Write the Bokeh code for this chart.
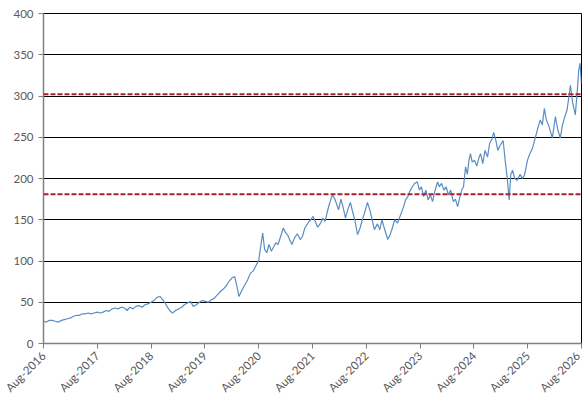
import numpy as np
import pandas as pd
from bokeh.plotting import figure
from bokeh.models import FixedTicker, DatetimeTickFormatter, Range1d, Span
from bokeh.embed import file_html
from bokeh.resources import INLINE
import math

dates = [
 "2016-08-01","2016-08-20","2016-09-10","2016-10-01","2016-10-20","2016-11-10","2016-12-01","2016-12-20",
 "2017-01-10","2017-02-01","2017-02-20","2017-03-10","2017-04-01","2017-04-20","2017-05-10","2017-06-01",
 "2017-06-20","2017-07-10","2017-08-01","2017-08-20","2017-09-10","2017-10-01","2017-10-20","2017-11-10",
 "2017-12-01","2017-12-20","2018-01-10","2018-02-01","2018-02-20","2018-03-10","2018-04-01","2018-04-20",
 "2018-05-10","2018-06-01","2018-06-20","2018-07-10","2018-08-01","2018-08-20","2018-09-10","2018-10-01",
 "2018-10-15","2018-11-01","2018-11-20","2018-12-10","2018-12-25","2019-01-15","2019-02-05","2019-02-25",
 "2019-03-15","2019-04-05","2019-04-25","2019-05-15","2019-06-05","2019-06-25","2019-07-15","2019-08-05",
 "2019-08-25","2019-09-15","2019-10-05","2019-10-25","2019-11-15","2019-12-05","2019-12-25","2020-01-15",
 "2020-02-05","2020-02-20","2020-03-05","2020-03-20","2020-04-05","2020-04-25","2020-05-15","2020-06-05",
 "2020-06-25","2020-07-15","2020-08-01","2020-08-15","2020-08-28","2020-09-10","2020-09-25","2020-10-10",
 "2020-10-25","2020-11-10","2020-11-25","2020-12-10","2020-12-28","2021-01-15","2021-01-28","2021-02-15",
 "2021-03-01","2021-03-15","2021-04-01","2021-04-20","2021-05-10","2021-05-25","2021-06-10","2021-07-05",
 "2021-07-20","2021-08-05","2021-08-20","2021-09-05","2021-09-25","2021-10-10","2021-10-25","2021-11-10",
 "2021-11-25","2021-12-14","2021-12-28","2022-01-10","2022-01-25","2022-02-10","2022-02-25","2022-03-13",
 "2022-03-28","2022-04-15","2022-04-30","2022-05-15","2022-06-03","2022-06-20","2022-07-05","2022-07-20",
 "2022-08-09","2022-08-25","2022-09-10","2022-09-25","2022-10-16","2022-11-01","2022-11-15","2022-12-01",
 "2022-12-25","2023-01-10","2023-01-25","2023-02-10","2023-03-01","2023-03-20","2023-04-10","2023-04-25",
 "2023-05-10","2023-05-25","2023-06-10","2023-06-25","2023-07-13","2023-07-28","2023-08-10","2023-08-25",
 "2023-09-10","2023-09-25","2023-10-10","2023-10-25","2023-11-10","2023-11-28","2023-12-10","2023-12-25",
 "2024-01-10","2024-01-25","2024-02-10","2024-02-25","2024-03-14","2024-03-28","2024-04-12","2024-04-28",
 "2024-05-10","2024-05-22","2024-06-05","2024-06-17","2024-06-28","2024-07-08","2024-07-20","2024-08-05",
 "2024-08-20","2024-09-05","2024-09-15","2024-09-30","2024-10-15","2024-11-01","2024-11-15","2024-12-01",
 "2024-12-13","2024-12-28","2025-01-10","2025-01-25","2025-02-15","2025-03-01","2025-03-15","2025-03-28",
 "2025-04-08","2025-04-20","2025-05-05","2025-05-22","2025-06-10","2025-06-25","2025-07-10","2025-07-30",
 "2025-08-15","2025-09-01","2025-09-22","2025-10-10","2025-10-25","2025-11-08","2025-11-22","2025-12-05",
 "2025-12-20","2026-01-15","2026-02-05","2026-02-20","2026-03-10","2026-03-25","2026-04-10","2026-04-25",
 "2026-05-18","2026-06-01","2026-06-20","2026-07-05","2026-07-13","2026-07-22","2026-08-01",
]
values = [
 27,26,28,28,27,26,28,29,
 30,31,33,34,34,36,36,37,
 36,37,38,37,38,40,39,42,
 43,42,44,43,40,44,42,45,
 46,44,47,48,50,52,56,57,
 54,50,44,39,37,40,42,44,
 47,49,51,45,47,50,52,51,
 50,53,55,59,63,66,70,76,
 80,81,70,57,63,70,76,85,
 88,95,101,118,134,114,110,120,
 112,117,122,120,130,140,135,131,
 125,120,128,133,126,130,140,147,
 150,154,148,141,146,152,148,160,
 170,180,176,170,162,175,165,152,
 162,171,160,150,132,140,150,158,
 171,162,150,138,145,138,150,140,
 126,132,140,150,146,155,165,174,
 178,185,190,194,196,186,190,178,
 186,174,180,172,185,196,190,194,
 186,190,180,186,172,175,166,178,
 186,190,214,205,222,230,220,222,
 215,226,230,218,234,226,242,248,
 256,246,234,240,246,222,200,174,
 205,210,200,198,205,200,204,222,
 230,236,250,262,271,265,285,271,
 265,249,275,260,249,265,275,283,
 313,293,277,310,331,340,315,
]
levels = [302, 181]
tick_dates = ["2016-08-01","2017-08-01","2018-08-01","2019-08-01","2020-08-01","2021-08-01",
              "2022-08-01","2023-08-01","2024-08-01","2025-08-01","2026-08-01"]

x = pd.to_datetime(dates)
ticks_ms = [pd.Timestamp(d).value / 1e6 for d in tick_dates]

p = figure(width=582, height=401, x_axis_type="datetime", output_backend="svg",
           toolbar_location=None, min_border_left=43, min_border_right=1,
           min_border_top=13, min_border_bottom=57)
p.x_range = Range1d(ticks_ms[0], ticks_ms[-1])
p.y_range = Range1d(0, 400)

p.line(x, values, line_color="#5b8ec0", line_width=1.2)
for lv in levels:
    p.add_layout(Span(location=lv, dimension="width", line_color="#a8202c",
                      line_width=2, line_dash="5 2"))

p.xaxis.ticker = FixedTicker(ticks=ticks_ms)
p.xaxis.formatter = DatetimeTickFormatter(months="%b-%Y", days="%b-%Y", years="%b-%Y")
p.xaxis.major_label_orientation = math.pi / 4
p.yaxis.ticker = FixedTicker(ticks=list(range(0, 401, 50)))

for ax in (p.xaxis, p.yaxis):
    ax.axis_line_color = "#808080"
    ax.axis_line_width = 1.5
    ax.major_tick_line_color = "#808080"
    ax.major_tick_in = 0
    ax.major_tick_out = 5
    ax.minor_tick_line_color = None
    ax.major_label_text_color = "#595959"
    ax.major_label_text_font = "Lato"
    ax.major_label_text_font_size = "11.5px"
p.yaxis.major_label_standoff = 5

p.xgrid.grid_line_color = None
p.ygrid.grid_line_color = "#000000"
p.ygrid.grid_line_width = 1
p.ygrid.ticker = FixedTicker(ticks=list(range(50, 401, 50)))
p.outline_line_color = "#000000"
p.outline_line_width = 1
p.background_fill_color = "white"
p.border_fill_color = "white"

open("out.html", "w").write(file_html(p, INLINE))
